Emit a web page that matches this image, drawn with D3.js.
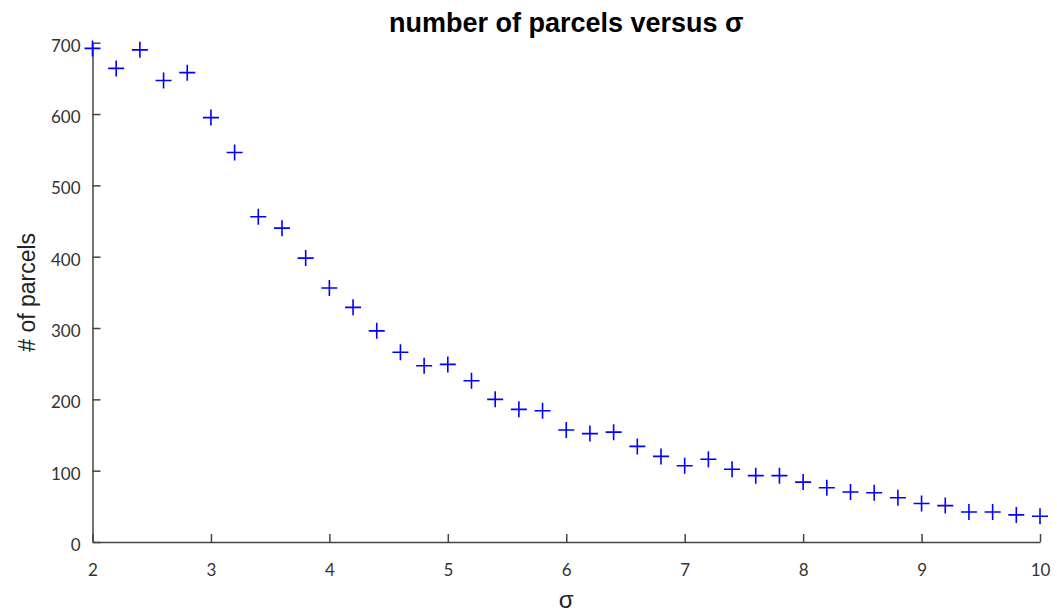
<!DOCTYPE html>
<html>
<head>
<meta charset="utf-8">
<script src="https://cdn.jsdelivr.net/npm/d3@7"></script>
<style>
  html, body { margin: 0; padding: 0; background: #fff; }
  svg { display: block; }
</style>
</head>
<body>
<svg id="chart" width="1057" height="613"></svg>
<script>
// σ values sampled every 0.2 from 2 to 10
const sigma = [2.0, 2.2, 2.4, 2.6, 2.8, 3.0, 3.2, 3.4, 3.6, 3.8,
               4.0, 4.2, 4.4, 4.6, 4.8, 5.0, 5.2, 5.4, 5.6, 5.8,
               6.0, 6.2, 6.4, 6.6, 6.8, 7.0, 7.2, 7.4, 7.6, 7.8,
               8.0, 8.2, 8.4, 8.6, 8.8, 9.0, 9.2, 9.4, 9.6, 9.8, 10.0];
// number of parcels found for each σ
const parcels = [692, 664, 690, 647, 658, 595, 546, 456, 440, 398,
                 356, 329, 296, 266, 247, 249, 226, 200, 186, 184,
                 157, 152, 154, 134, 120, 107, 116, 102, 93, 93,
                 84, 76, 70, 69, 62, 54, 51, 42, 42, 38, 36];
const xTicks = [2, 3, 4, 5, 6, 7, 8, 9, 10];
const yTicks = [0, 100, 200, 300, 400, 500, 600, 700];

const svg = d3.select("#chart");
const plot = { left: 92.5, right: 1040, top: 42.7, bottom: 542 };

const x = d3.scaleLinear().domain([2, 10]).range([plot.left, plot.right]);
const y = d3.scaleLinear().domain([0, 700]).range([plot.bottom, plot.top]);

const axisColor = "#444";
const tickFont = "Lato, 'Open Sans', sans-serif";

// y axis, ticks pointing into the plot
const yAxis = svg.append("g")
  .attr("transform", `translate(${plot.left},0)`)
  .call(d3.axisLeft(y).tickValues(yTicks).tickSizeInner(-8).tickSizeOuter(0).tickPadding(12));
// x axis, ticks pointing up
const xAxis = svg.append("g")
  .attr("transform", `translate(0,${plot.bottom})`)
  .call(d3.axisBottom(x).tickValues(xTicks).tickSizeInner(-8).tickSizeOuter(0).tickPadding(22));

[yAxis, xAxis].forEach(g => {
  g.select(".domain").attr("stroke", axisColor).attr("stroke-width", 1.5);
  g.selectAll(".tick line").attr("stroke", axisColor).attr("stroke-width", 1.5);
  g.selectAll(".tick text")
    .attr("fill", "#333")
    .style("font-family", tickFont)
    .style("font-size", "17px");
});
yAxis.selectAll(".tick text").attr("dy", "0.5em");

// plus markers
const half = 8;
svg.append("g")
  .selectAll("path")
  .data(sigma.map((s, i) => [s, parcels[i]]))
  .join("path")
  .attr("d", d => {
    const cx = x(d[0]), cy = y(d[1]);
    return `M${cx - half},${cy}H${cx + half}M${cx},${cy - half}V${cy + half}`;
  })
  .attr("stroke", "#0000ff")
  .attr("stroke-width", 1.6)
  .attr("fill", "none");

// title
svg.append("text")
  .attr("x", (plot.left + plot.right) / 2)
  .attr("y", 32)
  .attr("text-anchor", "middle")
  .style("font-family", "'Liberation Sans', Arial, sans-serif")
  .style("font-weight", "bold")
  .style("font-size", "27px")
  .attr("fill", "#000")
  .text("number of parcels versus σ");

// axis labels
svg.append("text")
  .attr("transform", `translate(35,${(plot.top + plot.bottom) / 2}) rotate(-90)`)
  .attr("text-anchor", "middle")
  .style("font-family", "'Liberation Sans', Arial, sans-serif")
  .style("font-size", "23px")
  .attr("fill", "#222")
  .text("# of parcels");

svg.append("text")
  .attr("x", (plot.left + plot.right) / 2)
  .attr("y", 608)
  .attr("text-anchor", "middle")
  .style("font-family", "'Liberation Sans', Arial, sans-serif")
  .style("font-size", "24px")
  .attr("fill", "#222")
  .text("σ");
</script>
</body>
</html>
